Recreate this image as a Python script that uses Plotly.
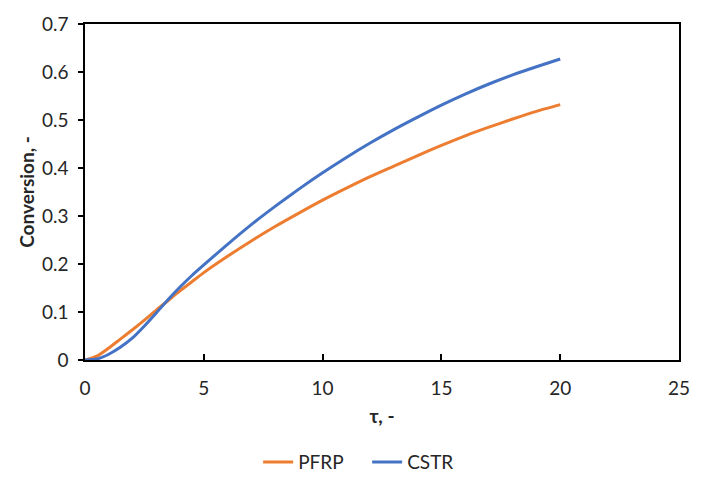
import plotly.graph_objects as go

# Space time (tau) and conversion for the two reactor types
tau = [0, 0.5, 1, 1.5, 2, 2.5, 3, 3.5, 4, 4.5, 5, 6, 7, 8, 9, 10,
       11, 12, 13, 14, 15, 16, 17, 18, 19, 20]
pfrp_conv = [0, 0.008, 0.025, 0.044, 0.063, 0.083, 0.104, 0.124, 0.144, 0.163,
             0.182, 0.216, 0.248, 0.278, 0.306, 0.333, 0.358, 0.382, 0.404,
             0.426, 0.447, 0.467, 0.485, 0.502, 0.518, 0.532]
cstr_conv = [0, 0.002, 0.012, 0.027, 0.046, 0.071, 0.098, 0.126, 0.152, 0.176,
             0.198, 0.241, 0.282, 0.320, 0.356, 0.390, 0.422, 0.452, 0.480,
             0.506, 0.531, 0.554, 0.575, 0.594, 0.611, 0.627]

x_ticks = [0, 5, 10, 15, 20, 25]
y_ticks = [0, 0.1, 0.2, 0.3, 0.4, 0.5, 0.6, 0.7]
y_tick_text = ["0", "0.1", "0.2", "0.3", "0.4", "0.5", "0.6", "0.7"]

FONT = "Lato"
SIZE = 19

fig = go.Figure()
fig.add_trace(go.Scatter(x=tau, y=pfrp_conv, mode="lines", name="PFRP",
                         line=dict(color="#ED7D31", width=3, shape="spline",
                                   smoothing=0.6)))
fig.add_trace(go.Scatter(x=tau, y=cstr_conv, mode="lines", name="CSTR",
                         line=dict(color="#4472C4", width=3, shape="spline",
                                   smoothing=0.6)))

fig.update_layout(
    width=702, height=490,
    margin=dict(l=85, r=13, t=17, b=130),
    paper_bgcolor="white", plot_bgcolor="white",
    font=dict(family=FONT, size=SIZE, color="#262626"),
    showlegend=True,
    legend=dict(orientation="h", xref="container", yref="container",
                x=0.523, xanchor="center", y=0.057, yanchor="middle",
                font=dict(size=SIZE), traceorder="normal",
                entrywidth=64, entrywidthmode="pixels"),
    xaxis=dict(range=[0, 25], tickvals=x_ticks, showline=True, linecolor="black",
               linewidth=1.5, mirror=True, ticks="inside", ticklen=6,
               tickcolor="black", tickwidth=1.5, showgrid=False, zeroline=False,
               ticklabelstandoff=10,
               title=dict(text="<b>τ, -</b>", standoff=12, font=dict(size=SIZE))),
    yaxis=dict(range=[0, 0.7], tickvals=y_ticks, ticktext=y_tick_text, showline=True,
               linecolor="black", linewidth=1.5, mirror=True, ticks="outside",
               ticklen=5, tickcolor="black", tickwidth=1.5, showgrid=False,
               zeroline=False, ticklabelstandoff=6,
               title=dict(text="<b>Conversion, -</b>", standoff=2,
                          font=dict(size=SIZE))),
)

fig.write_html("out.html")
